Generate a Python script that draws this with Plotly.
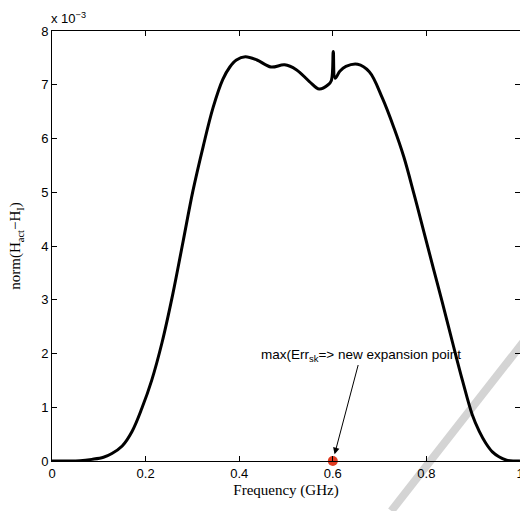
import plotly.graph_objects as go

# Frequency (GHz)
freq = [0, 0.03, 0.06, 0.085, 0.11, 0.128, 0.15, 0.171, 0.192, 0.213, 0.235, 0.258,
        0.280, 0.301, 0.323, 0.344, 0.365, 0.380, 0.394, 0.413, 0.438, 0.468, 0.497,
        0.522, 0.550, 0.571, 0.590, 0.597, 0.601, 0.605, 0.615, 0.628, 0.653, 0.678,
        0.706, 0.731, 0.752, 0.774, 0.795, 0.815, 0.834, 0.856, 0.877, 0.898, 0.913,
        0.927, 0.941, 0.955, 0.970, 0.985, 1.0]
# norm(H_act - H_I), in units of 1e-3
err_e3 = [0, 0, 0.005, 0.03, 0.07, 0.14, 0.28, 0.55, 0.98, 1.5, 2.2, 3.1,
          4.08, 5.02, 5.85, 6.57, 7.1, 7.33, 7.46, 7.52, 7.46, 7.33, 7.37,
          7.28, 7.06, 6.92, 7.0, 7.08, 7.62, 7.12, 7.25, 7.34, 7.38, 7.24,
          6.75, 6.19, 5.65, 4.95, 4.25, 3.58, 2.95, 2.2, 1.5, 0.86, 0.55,
          0.33, 0.17, 0.08, 0.02, 0.0, 0]

exp_point_x = [0.6]
exp_point_y = [0]

xticks = [0, 0.2, 0.4, 0.6, 0.8, 1]
xticklabels = ["0", "0.2", "0.4", "0.6", "0.8", "1"]
yticks = [0, 1, 2, 3, 4, 5, 6, 7, 8]

fig = go.Figure()
fig.add_trace(go.Scatter(x=freq, y=err_e3, mode="lines",
                         line=dict(color="black", width=3, shape="spline", smoothing=1.0),
                         showlegend=False, hoverinfo="skip"))
fig.add_trace(go.Scatter(x=exp_point_x, y=exp_point_y, mode="markers",
                         marker=dict(color="#e03a1e", size=10),
                         cliponaxis=False, showlegend=False))

axis_common = dict(showline=True, linecolor="black", linewidth=1, mirror="ticks",
                   ticks="inside", ticklen=5, tickcolor="black", showgrid=False,
                   zeroline=False, automargin=False, ticklabeloverflow="allow",
                   tickfont=dict(family="Liberation Sans, Arial", size=13, color="black"))

fig.update_layout(
    width=520, height=511,
    margin=dict(l=52, r=0, t=31, b=50),
    paper_bgcolor="white", plot_bgcolor="rgba(0,0,0,0)",
    xaxis=dict(range=[0, 1], tickvals=xticks, ticktext=xticklabels,
               title=dict(text="Frequency (GHz)", standoff=4,
                          font=dict(family="Liberation Serif, Times New Roman", size=15, color="black")),
               **axis_common),
    yaxis=dict(range=[0, 8], tickvals=yticks,
               title=dict(text="norm(H<sub>act</sub>\u2212H<sub>I</sub>)", standoff=16,
                          font=dict(family="Liberation Serif, Times New Roman", size=15, color="black")),
               **axis_common),
    shapes=[dict(type="line", xref="paper", yref="paper", layer="below",
                 x0=0.725, y0=-0.116, x1=1.085, y1=0.385,
                 line=dict(color="#d4d4d4", width=8))],
    annotations=[
        dict(x=0.6, y=0, xref="x", yref="y", ax=28, ay=-106,
             text="max(Err<sub>sk</sub>=> new expansion point",
             showarrow=True, arrowhead=2, arrowsize=1.3, arrowwidth=1, arrowcolor="black",
             standoff=7, font=dict(family="Liberation Sans, Arial", size=13.5, color="black")),
        dict(x=0, y=1, xref="paper", yref="paper", xanchor="left", yanchor="bottom",
             xshift=-3, yshift=3, showarrow=False, text="x 10<sup>\u22123</sup>",
             font=dict(family="Liberation Sans, Arial", size=13, color="black")),
    ],
)

fig.write_html("out.html")
